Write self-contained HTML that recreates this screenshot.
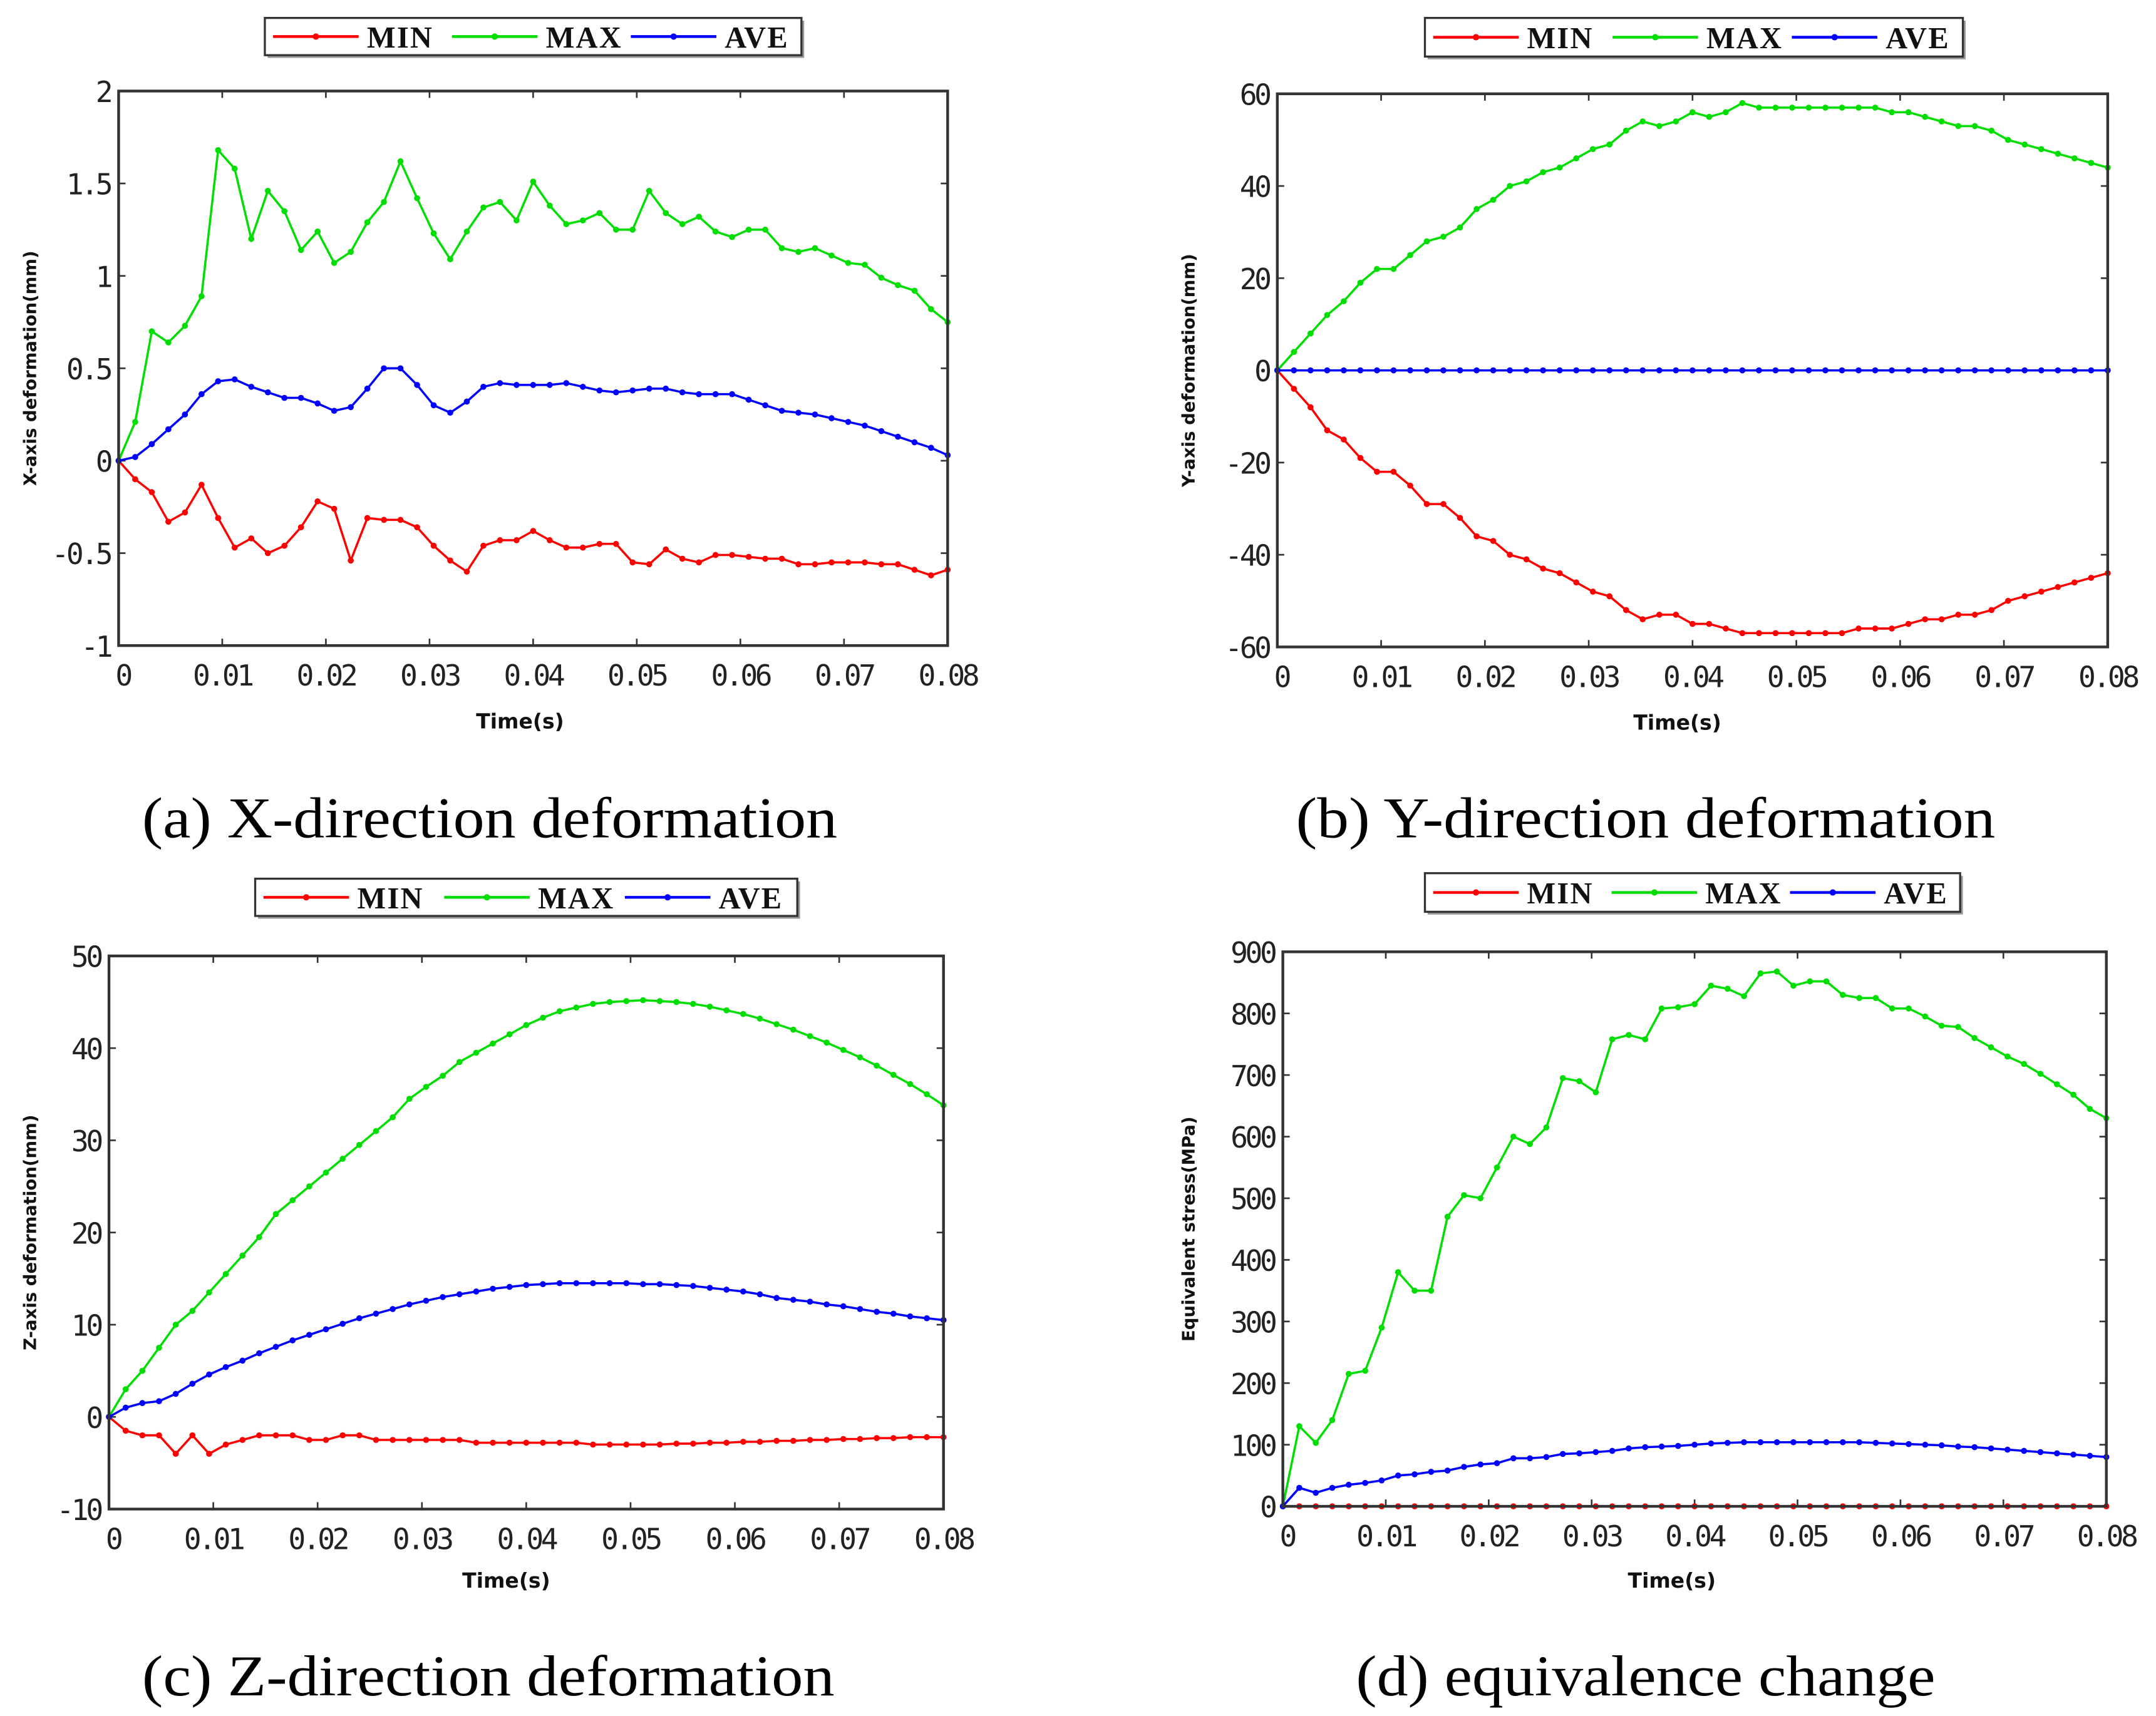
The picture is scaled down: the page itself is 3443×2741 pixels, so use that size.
<!DOCTYPE html>
<html><head><meta charset="utf-8"><style>
html,body{margin:0;padding:0;background:#fff;}
svg{display:block;}
</style></head><body>
<svg id="fig" width="3443" height="2741" viewBox="0 0 1563 1244" preserveAspectRatio="none" xmlns="http://www.w3.org/2000/svg"></svg>
<script>
const xTicks = [0,0.01,0.02,0.03,0.04,0.05,0.06,0.07,0.08];
const xTickLabels = ["0","0.01","0.02","0.03","0.04","0.05","0.06","0.07","0.08"];
const seriesNames = ["MIN","MAX","AVE"];
const seriesColors = ["#ff0000","#00dd00","#0000ff"];

const aMin = [0,-0.10,-0.17,-0.33,-0.28,-0.13,-0.31,-0.47,-0.42,-0.50,-0.46,-0.36,-0.22,-0.26,-0.54,-0.31,-0.32,-0.32,-0.36,-0.46,-0.54,-0.60,-0.46,-0.43,-0.43,-0.38,-0.43,-0.47,-0.47,-0.45,-0.45,-0.55,-0.56,-0.48,-0.53,-0.55,-0.51,-0.51,-0.52,-0.53,-0.53,-0.56,-0.56,-0.55,-0.55,-0.55,-0.56,-0.56,-0.59,-0.62,-0.59];
const aMax = [0,0.21,0.70,0.64,0.73,0.89,1.68,1.58,1.20,1.46,1.35,1.14,1.24,1.07,1.13,1.29,1.40,1.62,1.42,1.23,1.09,1.24,1.37,1.40,1.30,1.51,1.38,1.28,1.30,1.34,1.25,1.25,1.46,1.34,1.28,1.32,1.24,1.21,1.25,1.25,1.15,1.13,1.15,1.11,1.07,1.06,0.99,0.95,0.92,0.82,0.75];
const aAve = [0,0.02,0.09,0.17,0.25,0.36,0.43,0.44,0.40,0.37,0.34,0.34,0.31,0.27,0.29,0.39,0.50,0.50,0.41,0.30,0.26,0.32,0.40,0.42,0.41,0.41,0.41,0.42,0.40,0.38,0.37,0.38,0.39,0.39,0.37,0.36,0.36,0.36,0.33,0.30,0.27,0.26,0.25,0.23,0.21,0.19,0.16,0.13,0.10,0.07,0.03];
const aYTicks = [-1,-0.5,0,0.5,1,1.5,2];
const aYLabels = ["-1","-0.5","0","0.5","1","1.5","2"];

const bMax = [0,4,8,12,15,19,22,22,25,28,29,31,35,37,40,41,43,44,46,48,49,52,54,53,54,56,55,56,58,57,57,57,57,57,57,57,57,56,56,55,54,53,53,52,50,49,48,47,46,45,44];
const bMin = [0,-4,-8,-13,-15,-19,-22,-22,-25,-29,-29,-32,-36,-37,-40,-41,-43,-44,-46,-48,-49,-52,-54,-53,-53,-55,-55,-56,-57,-57,-57,-57,-57,-57,-57,-56,-56,-56,-55,-54,-54,-53,-53,-52,-50,-49,-48,-47,-46,-45,-44];
const bAve = [0,0,0,0,0,0,0,0,0,0,0,0,0,0,0,0,0,0,0,0,0,0,0,0,0,0,0,0,0,0,0,0,0,0,0,0,0,0,0,0,0,0,0,0,0,0,0,0,0,0,0];
const bYTicks = [-60,-40,-20,0,20,40,60];
const bYLabels = ["-60","-40","-20","0","20","40","60"];

const cMax = [0,3,5,7.5,10,11.5,13.5,15.5,17.5,19.5,22,23.5,25,26.5,28,29.5,31,32.5,34.5,35.8,37,38.5,39.5,40.5,41.5,42.5,43.3,44,44.4,44.8,45,45.1,45.2,45.1,45,44.8,44.5,44.1,43.7,43.2,42.6,42,41.3,40.6,39.8,39,38.1,37.1,36.1,35,33.8];
const cAve = [0,1,1.5,1.7,2.5,3.6,4.6,5.4,6.1,6.9,7.6,8.3,8.9,9.5,10.1,10.7,11.2,11.7,12.2,12.6,13,13.3,13.6,13.9,14.1,14.3,14.4,14.5,14.5,14.5,14.5,14.5,14.4,14.4,14.3,14.2,14.0,13.8,13.6,13.3,12.9,12.7,12.5,12.2,12.0,11.7,11.4,11.2,10.9,10.7,10.5];
const cMin = [0,-1.5,-2,-2,-4,-2,-4,-3,-2.5,-2,-2,-2,-2.5,-2.5,-2,-2,-2.5,-2.5,-2.5,-2.5,-2.5,-2.5,-2.8,-2.8,-2.8,-2.8,-2.8,-2.8,-2.8,-3,-3,-3,-3,-3,-2.9,-2.9,-2.8,-2.8,-2.7,-2.7,-2.6,-2.6,-2.5,-2.5,-2.4,-2.4,-2.3,-2.3,-2.2,-2.2,-2.2];
const cYTicks = [-10,0,10,20,30,40,50];
const cYLabels = ["-10","0","10","20","30","40","50"];

const dMax = [0,130,103,140,215,220,290,380,350,350,470,505,500,550,600,588,615,695,690,672,758,765,758,808,810,815,845,840,828,865,868,845,852,852,830,825,825,808,808,795,780,778,760,745,730,718,702,685,668,645,630];
const dAve = [0,30,22,30,35,38,42,50,52,56,58,64,68,70,78,78,80,85,86,88,90,94,96,97,98,100,102,103,104,104,104,104,104,104,104,104,103,102,101,100,99,97,96,94,92,90,88,86,84,82,80];
const dMin = [0,0,0,0,0,0,0,0,0,0,0,0,0,0,0,0,0,0,0,0,0,0,0,0,0,0,0,0,0,0,0,0,0,0,0,0,0,0,0,0,0,0,0,0,0,0,0,0,0,0,0];
const dYTicks = [0,100,200,300,400,500,600,700,800,900];
const dYLabels = ["0","100","200","300","400","500","600","700","800","900"];

const NS = "http://www.w3.org/2000/svg";
const svg = document.getElementById('fig');
function mk(tag, attrs, parent, text){
  const e = document.createElementNS(NS, tag);
  for (const k in attrs) e.setAttribute(k, attrs[k]);
  if (text !== undefined) e.textContent = text;
  (parent||svg).appendChild(e);
  return e;
}

const panels = [
  {id:'a', L:86,R:687,T:66,B:468, ymin:-1,ymax:2, yt:aYTicks, yl:aYLabels, data:[aMin,aMax,aAve], ylab:'X-axis deformation(mm)', leg:[192,13,581,40], cap:'(a) X-direction deformation', cx:355, cy:607, cw:504, tx:377, ty:528, ylx:26},
  {id:'b', L:926,R:1528,T:68,B:469, ymin:-60,ymax:60, yt:bYTicks, yl:bYLabels, data:[bMin,bMax,bAve], ylab:'Y-axis deformation(mm)', leg:[1033,13,1423,41], cap:'(b) Y-direction deformation', cx:1193, cy:607, cw:507, tx:1216, ty:529, ylx:866},
  {id:'c', L:79,R:684,T:693,B:1094, ymin:-10,ymax:50, yt:cYTicks, yl:cYLabels, data:[cMin,cMax,cAve], ylab:'Z-axis deformation(mm)', leg:[185,637,578,664], cap:'(c) Z-direction deformation', cx:354, cy:1229, cw:502, tx:367, ty:1151, ylx:26},
  {id:'d', L:930,R:1527,T:690,B:1092, ymin:0,ymax:900, yt:dYTicks, yl:dYLabels, data:[dMin,dMax,dAve], ylab:'Equivalent stress(MPa)', leg:[1033,633,1421,661], cap:'(d) equivalence change', cx:1193, cy:1229, cw:420, tx:1212, ty:1151, ylx:866}
];

panels.forEach(p=>{
  const g = mk('g',{});
  
  
  const xs = v => p.L + (v/0.08)*(p.R-p.L);
  const ys = v => p.B - (v-p.ymin)/(p.ymax-p.ymin)*(p.B-p.T);
  xTicks.forEach((t,i)=>{
    const x = xs(t);
    mk('line',{x1:x,y1:p.B,x2:x,y2:p.B-5,stroke:'#333','stroke-width':1.2},g);
    mk('line',{x1:x,y1:p.T,x2:x,y2:p.T+5,stroke:'#333','stroke-width':1.2},g);
    const tl = mk('text',{x:x+(i==0?3:0),y:p.B+29,'text-anchor':'middle','font-family':'"DejaVu Sans Mono","Liberation Mono",monospace','font-size':21,fill:'#222','letter-spacing':-2},g,xTickLabels[i]);
    
    
  });
  p.yt.forEach((t,i)=>{
    const y = ys(t);
    mk('line',{x1:p.L,y1:y,x2:p.L+5,y2:y,stroke:'#333','stroke-width':1.2},g);
    mk('line',{x1:p.R,y1:y,x2:p.R-5,y2:y,stroke:'#333','stroke-width':1.2},g);
    const tl = mk('text',{x:p.L-6,y:y+8,'text-anchor':'end','font-family':'"DejaVu Sans Mono","Liberation Mono",monospace','font-size':21,fill:'#222','letter-spacing':-2},g,p.yl[i]);
    
    
  });
  p.data.forEach((arr,si)=>{
    const pts = arr.map((v,i)=>[xs(i*0.08/(arr.length-1)), ys(v)]);
    const pl = mk('polyline',{points:pts.map(q=>q.join(',')).join(' '),fill:'none',stroke:seriesColors[si],'stroke-width':1.6},g);
    
    
    pts.forEach(q=>{
      const c = mk('circle',{cx:q[0],cy:q[1],r:2.2,fill:seriesColors[si]},g);
      
      
    });
  });
  const fr = mk('rect',{x:p.L,y:p.T,width:p.R-p.L,height:p.B-p.T,fill:'none',stroke:'#333','stroke-width':2},g);
  
  
  const xt = mk('text',{x:p.tx,y:p.ty,'text-anchor':'middle','font-family':'"DejaVu Sans","Liberation Sans",sans-serif','font-weight':'bold','font-size':15,fill:'#111'},g,'Time(s)');
  
  
  const cyy = (p.T+p.B)/2;
  const yt = mk('text',{x:p.ylx,y:cyy,'text-anchor':'middle','font-family':'"DejaVu Sans","Liberation Sans",sans-serif','font-weight':'bold','font-size':12.5,fill:'#111',transform:`rotate(-90 ${p.ylx} ${cyy})`},g,p.ylab);
  
  
  const [lx1,ly1,lx2,ly2] = p.leg;
  const lg = mk('g',{},g);
  
  
  mk('rect',{x:lx1+2,y:ly1+2,width:lx2-lx1,height:ly2-ly1,fill:'#999'},lg);
  mk('rect',{x:lx1,y:ly1,width:lx2-lx1,height:ly2-ly1,fill:'#fff',stroke:'#333','stroke-width':1.5},lg);
  const w = (lx2-lx1)/3;
  const my = (ly1+ly2)/2;
  seriesNames.forEach((n,i)=>{
    const x0 = lx1+6+i*w;
    const ent = mk('g',{},lg);
    
    
    mk('line',{x1:x0,y1:my,x2:x0+62,y2:my,stroke:seriesColors[i],'stroke-width':2},ent);
    mk('circle',{cx:x0+31,cy:my,r:2.3,fill:seriesColors[i]},ent);
    mk('text',{x:x0+68,y:my+8,'font-family':'"Liberation Serif",serif','font-weight':'bold','font-size':22,fill:'#111','letter-spacing':1},ent,n);
  });
  const cap = mk('text',{x:p.cx-p.cw/2,y:p.cy,'font-family':'"Liberation Serif",serif','font-size':42,fill:'#000',textLength:p.cw,lengthAdjust:'spacingAndGlyphs'},svg,p.cap);
  
  
});
</script>
</body></html>
